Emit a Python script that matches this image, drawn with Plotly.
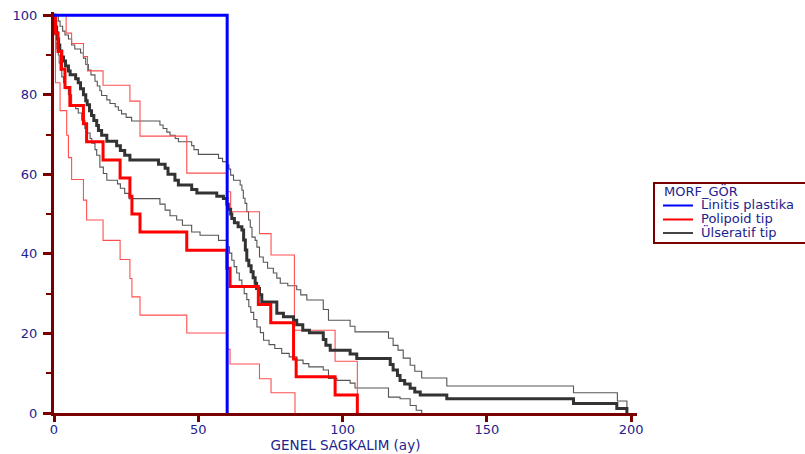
import plotly.graph_objects as go

# ---- Kaplan-Meier estimates (time in months, survival in %) ----
# Each list pair: time at which the step occurs, survival after the step.

# Linitis plastika
lin_t = [0, 60]
lin_s = [100, 0]

# Polipoid tip
pol_t = [0, 0.5, 1.4, 2.6, 3.8, 5.5, 10.2, 11.3, 17.0, 22.9, 26.3, 27.0, 29.8,
         46.0, 59.9, 61.0, 70.8, 75.1, 83.0, 83.9, 97.4, 105.1]
pol_s = [100, 95.5, 90.9, 86.4, 81.8, 77.3, 72.7, 68.2, 63.6, 59.1, 54.5, 50.0, 45.5,
         40.9, 36.4, 31.8, 27.3, 22.7, 13.6, 9.1, 4.5, 0]

# Polipoid tip, 95% confidence limits
pol_up_t = [0, 4.2, 6.1, 10.2, 11.6, 17.0, 26.3, 29.8, 46.0, 59.9, 61.2, 71.2,
            75.2, 83.3, 97.4, 105.1]
pol_up_s = [100, 95.5, 92.9, 89.6, 86.0, 82.4, 78.4, 69.6, 60.3, 55.6, 50.6, 45.1,
            39.7, 20.8, 13.0, 0]
pol_lo_t = [0, 0.5, 2.1, 4.4, 5.0, 6.1, 10.2, 11.3, 17.0, 22.9, 26.3, 27.0, 29.8,
            46.0, 59.9, 61.0, 71.2, 75.2, 83.5]
pol_lo_s = [100, 83.0, 76.0, 69.8, 64.2, 58.7, 53.5, 48.5, 43.4, 38.6, 33.8, 29.2, 24.6,
            20.1, 16.0, 12.3, 8.6, 5.1, 0]

# Ülseratif tip
uls_t = [0, 0.3, 0.6, 0.9, 1.2, 1.6, 2.0, 2.7, 3.3, 4.0, 5.0, 5.6, 7.5, 8.4, 9.2,
         10.2, 11.0, 11.5, 12.3, 13.0, 13.8, 14.8, 15.4, 16.5, 18.3, 21.7, 23.0,
         24.5, 26.3, 36.2, 38.5, 39.5, 41.9, 43.1, 47.7, 49.5, 56.4, 58.7, 59.9,
         60.4, 61.2, 61.6, 62.5, 63.8, 65.1, 65.7, 66.3, 66.8, 67.5, 68.3, 69.0,
         69.7, 70.2, 71.2, 72.0, 77.2, 79.5, 83.0, 84.1, 86.2, 88.5, 93.3, 94.2,
         95.7, 102.6, 104.9, 116.5, 117.5, 119.0, 119.9, 121.5, 123.4, 125.0,
         126.9, 136.1, 180.0, 195.0, 198.5]
uls_s = [100, 98.5, 97.0, 95.5, 94.0, 92.5, 91.0, 89.5, 88.5, 87.2, 86.0, 85.0, 84.0,
         83.0, 81.5, 80.0, 78.5, 77.5, 76.0, 74.8, 73.5, 72.3, 71.0, 69.8, 68.3,
         67.2, 66.0, 64.8, 63.6, 62.5, 61.5, 60.0, 58.5, 57.3, 56.2, 55.3, 54.5,
         53.9, 52.5, 51.2, 50.0, 48.9, 47.8, 46.8, 46.0, 43.5, 41.0, 38.4, 37.0,
         35.5, 34.0, 32.6, 31.3, 29.7, 27.9, 25.1, 24.2, 23.3, 22.2, 20.8, 20.2,
         18.5, 17.0, 15.8, 14.8, 13.7, 12.2, 10.8, 9.4, 8.2, 7.3, 6.2, 5.3, 4.5,
         3.6, 2.4, 1.1, 0]

# Ülseratif tip, 95% confidence limits
uls_up_t = [0, 1.5, 2.1, 3.0, 3.8, 5.0, 6.1, 7.2, 9.2, 10.2, 11.0, 11.9, 12.8, 14.2,
            15.0, 15.9, 16.5, 18.3, 19.4, 21.2, 22.3, 23.4, 25.0, 26.9, 36.7, 37.8,
            39.1, 40.2, 42.0, 43.1, 47.7, 48.5, 50.0, 57.0, 58.4, 59.9, 60.6, 61.2,
            62.2, 64.5, 65.1, 65.6, 66.2, 66.8, 67.4, 68.0, 68.6, 69.7, 70.3, 71.2,
            72.5, 74.0, 76.0, 77.2, 78.4, 81.0, 84.1, 85.5, 87.6, 93.3, 95.1, 102.6,
            104.3, 115.9, 117.5, 119.2, 121.0, 123.4, 125.0, 127.4, 136.1, 180.0,
            195.2, 198.5]
uls_up_s = [100, 98.5, 97.2, 96.0, 95.0, 94.0, 92.5, 91.5, 90.5, 89.2, 87.6, 86.2,
            85.0, 83.4, 82.2, 81.0, 79.8, 78.7, 77.8, 77.0, 76.1, 75.2, 74.3, 73.4,
            72.4, 71.5, 70.6, 69.8, 69.0, 68.2, 67.2, 66.2, 65.0, 64.0, 63.2, 62.3,
            61.3, 59.8, 58.5, 57.3, 56.0, 54.0, 52.7, 50.6, 48.5, 46.7, 44.2, 43.4,
            41.7, 39.2, 37.9, 36.4, 35.2, 33.9, 32.6, 32.0, 31.0, 29.7, 28.4, 26.0,
            23.3, 21.8, 20.4, 18.8, 17.0, 15.8, 13.8, 12.0, 10.5, 8.8, 6.8, 5.1, 3.0, 0]
uls_lo_t = [0, 0.3, 0.6, 1.0, 1.5, 1.8, 2.1, 2.7, 3.3, 4.0, 5.0, 6.1, 7.5, 8.4, 9.6,
            10.7, 11.3, 12.5, 13.1, 14.2, 14.8, 15.9, 17.1, 18.3, 22.0, 23.0, 24.5,
            26.0, 36.7, 38.5, 40.2, 42.5, 44.5, 47.7, 50.6, 57.0, 59.9, 60.8, 61.6,
            62.4, 63.3, 64.2, 65.1, 65.9, 66.8, 67.5, 68.2, 69.2, 70.3, 71.5, 72.6,
            74.5, 76.5, 78.9, 81.5, 84.1, 86.3, 88.3, 93.3, 95.1, 98.0, 102.6, 104.3,
            115.9, 119.9, 123.4, 125.5, 127.4]
uls_lo_s = [100, 95.0, 93.0, 91.5, 90.0, 88.0, 86.2, 84.5, 83.0, 81.5, 80.0, 77.5,
            76.5, 75.4, 73.6, 71.5, 70.4, 69.0, 67.8, 66.2, 64.8, 61.8, 60.2, 58.5,
            57.6, 56.5, 55.2, 53.9, 52.5, 51.0, 49.6, 48.5, 47.2, 45.5, 44.7, 43.4,
            41.8, 40.2, 38.4, 36.8, 35.2, 33.4, 31.7, 30.0, 28.5, 26.7, 25.3, 23.5,
            21.6, 20.2, 18.3, 17.2, 16.2, 15.0, 14.1, 13.3, 12.4, 11.6, 10.8, 8.7,
            8.2, 7.5, 6.3, 4.0, 3.6, 1.9, 0.7, 0]

# group names and colours for the key
legend_title = "MORF_GÖR"
group_names = ["Linitis plastika", "Polipoid tip", "Ülseratif tip"]
group_colors = ["#0000ff", "#ff0000", "#444444"]

MAROON = "#7a0000"
NAVY = "#22228c"
FONT = "DejaVu Sans"

W, H = 805, 454
ML, MR, MT, MB = 54, 168, 12, 41

fig = go.Figure()


def step(x, y, color, width, name=None):
    fig.add_trace(go.Scatter(
        x=x, y=y, mode="lines", line=dict(color=color, width=width, shape="hv"),
        name=name, showlegend=False, hoverinfo="skip",
    ))


# confidence bands first, estimates on top
step(uls_up_t, uls_up_s, "#555555", 1.1)
step(uls_lo_t, uls_lo_s, "#555555", 1.1)
step(pol_up_t, pol_up_s, "#ff5050", 1.1)
step(pol_lo_t, pol_lo_s, "#ff5050", 1.1)
step(uls_t, uls_s, "#333333", 3, group_names[2])
step(pol_t, pol_s, "#ff0000", 3, group_names[1])
step(lin_t, lin_s, "#0000ff", 3, group_names[0])

tick_font = dict(family=FONT, size=13, color=NAVY)

fig.update_xaxes(
    range=[0, 202], showgrid=False, zeroline=False, automargin=False,
    showline=True, linecolor=MAROON, linewidth=3,
    ticks="outside", ticklen=6, tickwidth=3, tickcolor=MAROON,
    tickvals=[0, 50, 100, 150, 200], tickfont=tick_font, ticklabelstandoff=-4,
    title=dict(text="GENEL SAGKALIM (ay)", font=dict(family=FONT, size=13.5, color=NAVY),
               standoff=1),
)
fig.update_yaxes(
    range=[0, 100.8], showgrid=False, zeroline=False, automargin=False,
    showline=True, linecolor=MAROON, linewidth=3,
    ticks="outside", ticklen=8, tickwidth=3, tickcolor=MAROON,
    tickvals=[0, 20, 40, 60, 80, 100], tickfont=tick_font, ticklabelstandoff=3,
    minor=dict(tickvals=[10, 30, 50, 70, 90], ticks="outside", ticklen=5,
               tickwidth=2, tickcolor=MAROON, showgrid=False),
)


# key box drawn in paper space, positioned in pixels
def px(xp):
    return (xp - ML) / (W - ML - MR)


def py(yp):
    return (H - MB - yp) / (H - MT - MB)


shapes = [dict(type="rect", xref="paper", yref="paper",
               x0=px(654), x1=px(808), y0=py(243), y1=py(183),
               line=dict(color=MAROON, width=2), fillcolor="white", layer="above")]
annotations = [dict(text=legend_title, xref="paper", yref="paper",
                    x=px(662), y=py(191), xanchor="left", yanchor="middle",
                    showarrow=False, font=dict(family=FONT, size=13, color=NAVY))]
row_y = [204.5, 218.5, 232]
for name, color, ry in zip(group_names, group_colors, row_y):
    shapes.append(dict(type="line", xref="paper", yref="paper",
                       x0=px(663), x1=px(693), y0=py(ry + 1), y1=py(ry + 1),
                       line=dict(color=color, width=2), layer="above"))
    annotations.append(dict(text=name, xref="paper", yref="paper",
                            x=px(699), y=py(ry), xanchor="left", yanchor="middle",
                            showarrow=False,
                            font=dict(family=FONT, size=13, color=NAVY)))

fig.update_layout(
    width=W, height=H,
    margin=dict(l=ML, r=MR, t=MT, b=MB, autoexpand=False),
    plot_bgcolor="white", paper_bgcolor="white",
    showlegend=False,
    shapes=shapes, annotations=annotations,
)

fig.write_html("out.html")
